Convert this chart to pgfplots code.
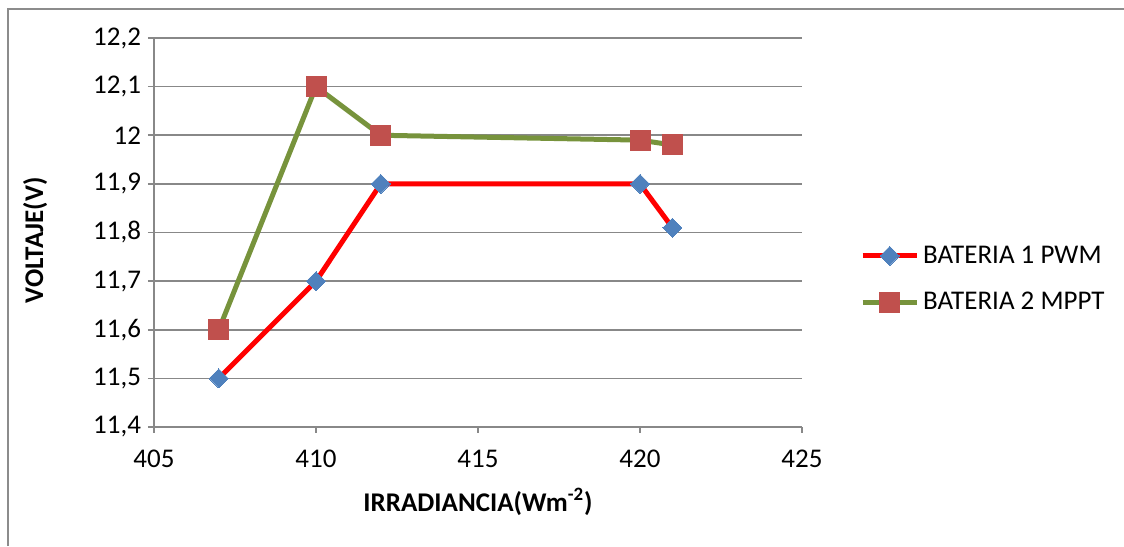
\documentclass[border=0pt]{standalone}
\usepackage{pgfplots}
\pgfplotsset{compat=1.18}
\usepackage{fontspec}
\setmainfont{Carlito}
\definecolor{gridgray}{HTML}{888888}
\definecolor{framegray}{HTML}{8C8C8C}
\definecolor{pwmblue}{HTML}{4F81BD}
\definecolor{mpptred}{HTML}{C0504D}
\definecolor{mpptgreen}{HTML}{77933C}
\begin{document}
\begin{tikzpicture}
\path[use as bounding box] (0,0) rectangle (562pt,273pt);
\draw[framegray, line width=0.9pt] (4pt,0) -- (4pt,268.5pt) -- (562pt,268.5pt);
\begin{axis}[
  at={(77pt,59.5pt)}, anchor=south west,
  scale only axis, width=324pt, height=194.5pt,
  xmin=405, xmax=425, ymin=11.4, ymax=12.2,
  xtick={405,410,...,425},
  ytick={11.4,11.5,11.6,11.7,11.8,11.9,12.0,12.1,12.2},
  axis x line*=bottom, axis y line*=left,
  axis line style={gridgray, line width=0.8pt, -},
  tick align=outside, major tick length=3pt,
  tick style={gridgray, line width=0.8pt},
  ymajorgrids, grid style={gridgray, line width=0.8pt},
  /pgf/number format/assume math mode=true,
  /pgf/number format/use comma,
  /pgf/number format/fixed,
  font=\fontsize{13.5}{16}\selectfont,
  ticklabel style={font=\fontsize{13.5}{16}\selectfont},
  xticklabel style={yshift=-5pt},
  xlabel={\textbf{IRRADIANCIA(Wm\textsuperscript{-2})}},
  ylabel={\textbf{VOLTAJE(V)}},
  xlabel style={at={(axis description cs:0.5,-0.1928)}, anchor=center},
  ylabel style={at={(axis description cs:-0.1836,0.48)}, anchor=center},
  legend style={at={(1.08,0.38)}, anchor=west, draw=none, fill=none,
    font=\fontsize{13.5}{16}\selectfont, row sep=9pt},
  legend cell align=left,
  legend image code/.code={
    \draw[mark repeat=2,mark phase=2] plot coordinates {(0pt,0pt) (13.5pt,0pt) (27pt,0pt)};
  },
  clip=false,
]
\addplot[red, line width=2.5pt, mark=square*, mark size=3.35pt,
  mark options={rotate=45, fill=pwmblue, draw=pwmblue, line width=0pt}]
  coordinates {(407,11.5) (410,11.7) (412,11.9) (420,11.9) (421,11.81)};
\addlegendentry{BATERIA 1 PWM}
\addplot[mpptgreen, line width=2.5pt, mark=square*, mark size=5pt,
  mark options={fill=mpptred, draw=mpptred, line width=0pt}]
  coordinates {(407,11.6) (410,12.1) (412,12.0) (420,11.99) (421,11.98)};
\addlegendentry{BATERIA 2 MPPT}
\end{axis}
\end{tikzpicture}
\end{document}
